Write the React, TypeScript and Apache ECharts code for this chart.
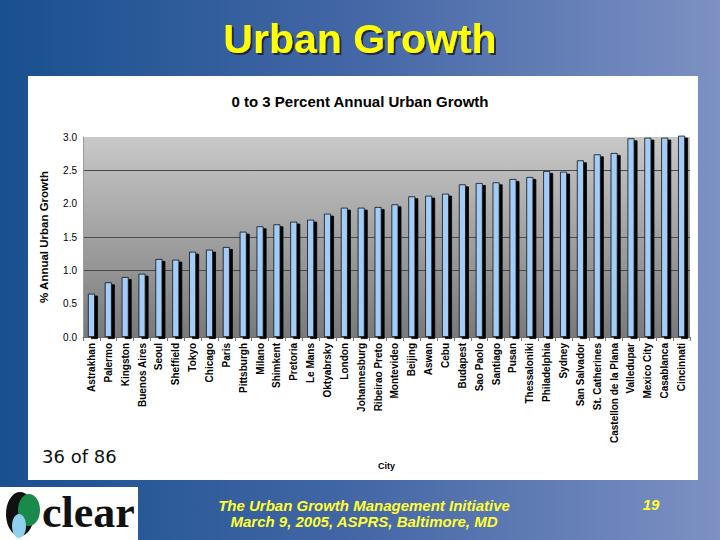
import React, { useEffect, useRef } from "react";
import * as echarts from "echarts";

const categories: string[] = [
  "Astrakhan", "Palermo", "Kingston", "Buenos Aires", "Seoul", "Sheffield",
  "Tokyo", "Chicago", "Paris", "Pittsburgh", "Milano", "Shimkent",
  "Pretoria", "Le Mans", "Oktyabrsky", "London", "Johannesburg", "Ribeirao Preto",
  "Montevideo", "Beijing", "Aswan", "Cebu", "Budapest", "Sao Paolo",
  "Santiago", "Pusan", "Thessaloniki", "Philadelphia", "Sydney", "San Salvador",
  "St. Catherines", "Castellon de la Plana", "Valledupar", "Mexico City", "Casablanca", "Cincinnati",
];

const growthValues: number[] = [
  0.65, 0.82, 0.9, 0.95, 1.17, 1.16,
  1.28, 1.31, 1.35, 1.58, 1.66, 1.69,
  1.73, 1.76, 1.85, 1.94, 1.94, 1.95,
  1.99, 2.11, 2.12, 2.15, 2.29, 2.31,
  2.32, 2.37, 2.4, 2.49, 2.48, 2.65,
  2.74, 2.76, 2.98, 2.99, 2.99, 3.02,
];

const yTicks: number[] = [0, 0.5, 1.0, 1.5, 2.0, 2.5, 3.0];
// which horizontal grid lines are visible in the reference (per tick above)
const gridVisible: boolean[] = [false, false, true, true, false, true, false];

const slideTitle = "Urban Growth";
const chartTitle = "0 to 3 Percent Annual Urban Growth";
const yAxisName = "% Annual Urban Growth";
const xAxisName = "City";
const pageNote = "36 of 86";
const footerLines: string[] = [
  "The Urban Growth Management Initiative",
  "March 9, 2005, ASPRS, Baltimore, MD",
];
const pageNumber = "19";

export default function App() {
  const ref = useRef<HTMLDivElement>(null);

  useEffect(() => {
    if (!ref.current) return;
    const chart = echarts.init(ref.current, undefined, { renderer: "svg" });
    const option: any = {
      animation: false,
      backgroundColor: "transparent",
      title: {
        text: chartTitle,
        left: "center",
        top: 89,
        textStyle: {
          fontFamily: "Liberation Sans, Arial, sans-serif",
          fontSize: 15,
          fontWeight: "bold",
          color: "#000",
        },
      },
      grid: {
        left: 83,
        right: 30,
        top: 137,
        bottom: 203,
        show: true,
        borderWidth: 0,
        backgroundColor: new echarts.graphic.LinearGradient(0, 0, 0, 1, [
          { offset: 0, color: "#c8c8c8" },
          { offset: 1, color: "#7a7a7a" },
        ]),
      },
      xAxis: {
        type: "category",
        data: categories,
        name: xAxisName,
        nameLocation: "middle",
        nameGap: 124,
        nameTextStyle: {
          fontFamily: "Liberation Sans, Arial, sans-serif",
          fontSize: 9,
          fontWeight: "bold",
          color: "#000",
        },
        axisLine: { show: true, lineStyle: { color: "#6a6a6a", width: 1 } },
        axisTick: { show: true, length: 4, lineStyle: { color: "#777" } },
        axisLabel: {
          interval: 0,
          rotate: 90,
          margin: 6,
          fontFamily: "Liberation Sans, Arial, sans-serif",
          fontSize: 10,
          fontWeight: "bold",
          color: "#000",
        },
      },
      yAxis: {
        type: "value",
        min: 0,
        max: 3,
        interval: 0.5,
        name: yAxisName,
        nameLocation: "middle",
        nameRotate: 90,
        nameGap: 33,
        nameTextStyle: {
          fontFamily: "Liberation Sans, Arial, sans-serif",
          fontSize: 11.5,
          fontWeight: "bold",
          color: "#000",
        },
        axisLine: { show: true, lineStyle: { color: "#9a9a9a" } },
        axisTick: { show: false },
        axisLabel: {
          margin: 6,
          formatter: (v: number) => v.toFixed(1),
          fontFamily: "Liberation Sans, Arial, sans-serif",
          fontSize: 10,
          color: "#000",
        },
        splitLine: {
          show: true,
          lineStyle: {
            width: 1,
            color: yTicks.map((_, i) => (gridVisible[i] ? "#4a4a4a" : "rgba(0,0,0,0)")),
          },
        },
      },
      series: [
        {
          type: "bar",
          data: growthValues,
          barWidth: 7,
          clip: false,
          itemStyle: {
            color: "#a2cdf8",
            borderColor: "#111",
            borderWidth: 0.8,
            shadowColor: "#000",
            shadowBlur: 0,
            shadowOffsetX: 3,
            shadowOffsetY: 2,
          },
        },
      ],
      graphic: [
        {
          type: "text",
          left: "center",
          top: 18,
          style: {
            text: slideTitle,
            fontFamily: "Liberation Sans, Arial, sans-serif",
            fontSize: 41,
            fontWeight: "bold",
            fill: "#ffff00",
            textShadowColor: "rgba(20,20,40,0.8)",
            textShadowOffsetX: 2,
            textShadowOffsetY: 2,
            textShadowBlur: 1,
          },
        },
        {
          type: "text",
          x: 42,
          y: 447,
          style: {
            text: pageNote,
            fontFamily: "DejaVu Sans, sans-serif",
            fontSize: 18,
            fill: "#111",
          },
        },
        {
          type: "rect",
          shape: { x: 0, y: 487, width: 138, height: 53 },
          style: { fill: "#fff" },
        },
        {
          type: "ellipse",
          shape: { cx: 20, cy: 514, rx: 14, ry: 22 },
          style: { fill: "#111" },
        },
        {
          type: "ellipse",
          shape: { cx: 29, cy: 510, rx: 11, ry: 16 },
          style: { fill: "#1a8a4a" },
        },
        {
          type: "ellipse",
          shape: { cx: 19, cy: 526, rx: 7, ry: 12 },
          style: { fill: "#8fd0ee" },
        },
        {
          type: "text",
          x: 42,
          y: 490,
          style: {
            text: "clear",
            fontFamily: "Liberation Serif, Times New Roman, serif",
            fontSize: 44,
            fontWeight: "bold",
            fill: "#111",
          },
        },
        {
          type: "text",
          x: 364,
          y: 497,
          style: {
            text: footerLines.join("\n"),
            align: "center",
            lineHeight: 16,
            fontFamily: "Liberation Sans, Arial, sans-serif",
            fontSize: 15,
            fontStyle: "italic",
            fontWeight: "bold",
            fill: "#ffff33",
          },
        },
        {
          type: "text",
          x: 651,
          y: 497,
          style: {
            text: pageNumber,
            align: "center",
            fontFamily: "Liberation Sans, Arial, sans-serif",
            fontSize: 15,
            fontStyle: "italic",
            fontWeight: "bold",
            fill: "#ffff33",
          },
        },
      ],
    };
    chart.setOption(option);
    return () => chart.dispose();
  }, []);

  return (
    <div
      style={{
        position: "fixed",
        left: 0,
        top: 0,
        width: 720,
        height: 540,
        background: "linear-gradient(to right, #19508f 0%, #4467a6 50%, #7d91c3 100%)",
      }}
    >
      <div
        style={{
          position: "absolute",
          left: 28,
          top: 76,
          width: 670,
          height: 404,
          background: "#ffffff",
        }}
      />
      <div
        ref={ref}
        style={{ position: "absolute", left: 0, top: 0, width: 720, height: 540 }}
      />
    </div>
  );
}
